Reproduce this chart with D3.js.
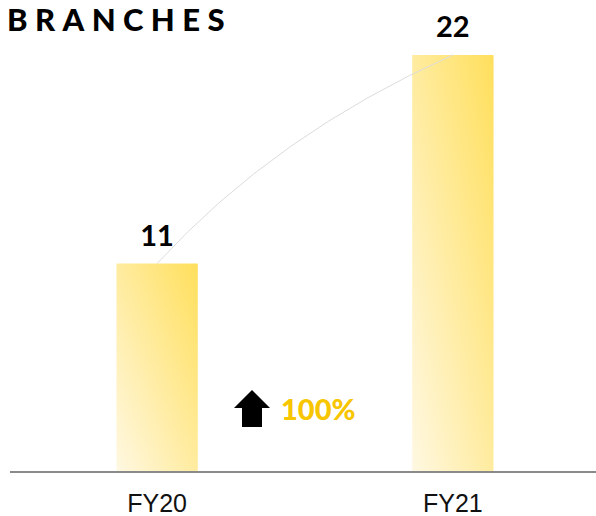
<!DOCTYPE html>
<html lang="en">
<head>
<meta charset="UTF-8">
<title>Branches</title>
<script src="https://d3js.org/d3.v7.min.js"></script>
<style>
    body { margin: 0; background: #fff; }
</style>
</head>
<body>
<svg id="chart" width="596" height="516"></svg>
<script>
    // Data
    const years = ["FY20", "FY21"];
    const branches = [11, 22];
    const growthLabel = ["100%"];

    const width = 596, height = 516;
    const svg = d3.select("#chart");

    svg.append("rect").attr("width", width).attr("height", height).attr("fill", "white");

    // Scales
    const x = d3.scaleBand()
        .domain(years)
        .range([10, 600])
        .paddingInner(0.725)
        .paddingOuter(0.36);

    const y = d3.scaleLinear()
        .domain([0, 22])
        .range([472, 55]);

    // Gradient for the bars (light bottom-left -> yellow top-right)
    const defs = svg.append("defs");
    const grad = defs.append("linearGradient")
        .attr("id", "barGrad")
        .attr("x1", 0).attr("y1", 1)
        .attr("x2", 1).attr("y2", 0);
    grad.append("stop").attr("offset", "0%").attr("stop-color", "#fff8e2");
    grad.append("stop").attr("offset", "100%").attr("stop-color", "#ffdf5c");

    // Title
    svg.append("text")
        .attr("x", 7)
        .attr("y", 31)
        .style("font-family", "Lato, 'Open Sans', sans-serif")
        .style("font-weight", 900)
        .style("font-size", "31px")
        .style("letter-spacing", "7.4px")
        .attr("fill", "#000")
        .text("BRANCHES");

    // Bars
    svg.selectAll(".bar")
        .data(branches)
        .enter().append("rect")
        .attr("class", "bar")
        .attr("x", (d, i) => x(years[i]))
        .attr("y", d => y(d))
        .attr("width", x.bandwidth())
        .attr("height", d => y(0) - y(d))
        .attr("fill", "url(#barGrad)");

    // Connecting curve between bar tops
    const p0 = [x(years[0]) + x.bandwidth() / 2, y(branches[0])];
    const p1 = [x(years[1]) + x.bandwidth() / 2, y(branches[1])];
    const ctrl = [p0[0] + (p1[0] - p0[0]) * 0.4, p1[1] + (p0[1] - p1[1]) * 0.38];
    const path = d3.path();
    path.moveTo(p0[0], p0[1]);
    path.quadraticCurveTo(ctrl[0], ctrl[1], p1[0], p1[1]);
    svg.append("path")
        .attr("d", path.toString())
        .attr("fill", "none")
        .attr("stroke", "#dcdcdc")
        .attr("stroke-width", 1);

    // Value labels
    svg.selectAll(".val")
        .data(branches)
        .enter().append("text")
        .attr("class", "val")
        .attr("x", (d, i) => x(years[i]) + x.bandwidth() / 2)
        .attr("y", d => y(d) - 18)
        .attr("text-anchor", "middle")
        .style("font-family", "Lato, sans-serif")
        .style("font-weight", 700)
        .style("font-size", "29px")
        .attr("fill", "#000")
        .text(d => d);

    // Baseline
    svg.append("line")
        .attr("x1", 10).attr("x2", width)
        .attr("y1", y(0)).attr("y2", y(0))
        .attr("stroke", "#8a8a8a")
        .attr("stroke-width", 2);

    // X labels
    svg.selectAll(".xl")
        .data(years)
        .enter().append("text")
        .attr("class", "xl")
        .attr("x", d => x(d) + x.bandwidth() / 2)
        .attr("y", 512)
        .attr("text-anchor", "middle")
        .style("font-family", "'Liberation Sans', Arial, sans-serif")
        .style("font-size", "25px")
        .attr("fill", "#111")
        .text(d => d);

    // Growth arrow + label
    const ax = 252, ay = 390;
    svg.append("path")
        .attr("d", `M${ax},${ay} L${ax + 18},${ay + 18} L${ax + 10},${ay + 18} L${ax + 10},${ay + 37}
                    L${ax - 10},${ay + 37} L${ax - 10},${ay + 18} L${ax - 18},${ay + 18} Z`)
        .attr("fill", "#000");

    svg.append("text")
        .attr("x", 281)
        .attr("y", 420)
        .style("font-family", "Lato, sans-serif")
        .style("font-weight", 900)
        .style("font-size", "29px")
        .attr("fill", "#f7c600")
        .text(growthLabel[0]);
</script>
</body>
</html>
